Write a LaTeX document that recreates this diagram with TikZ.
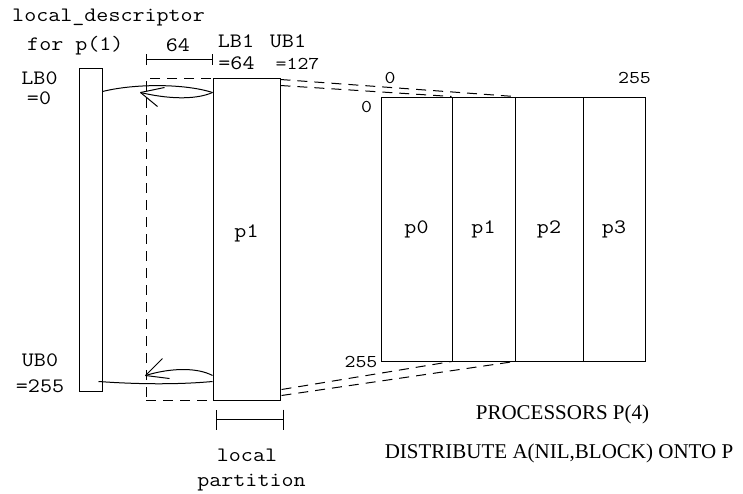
\documentclass[tikz,border=0pt]{standalone}
\usepackage{fontspec}
\setmainfont{Liberation Serif}
\usetikzlibrary{calc,arrows.meta}
\begin{document}
\begin{tikzpicture}[x=1pt,y=-1pt,
  line/.style={line width=1pt},
  box/.style={draw,line width=1pt,inner sep=0pt,minimum height=#1},
  dline/.style={line width=1pt,dash pattern=on 10pt off 7pt},
  mono/.style={font=\ttfamily\fontsize{20.5}{20.5}\selectfont,inner sep=0pt,xscale=1.14},
  monosm/.style={font=\ttfamily\fontsize{18}{18}\selectfont,inner sep=0pt,xscale=1.18},
  serif/.style={font=\fontsize{21}{21}\selectfont,inner sep=0pt}]
\useasboundingbox (0,0) rectangle (743,493);
% boxes
\node[box=323pt,minimum width=23pt] (ldesc) at (90.5,229.5) {};
\node[draw,line width=1pt,dash pattern=on 10pt off 7pt,inner sep=0pt,minimum width=67pt,minimum height=322pt] (dbox) at (179.5,239) {};
\node[box=322pt,minimum width=67pt] (lp1) at (246.5,239) {};
\node[box=264pt,minimum width=71pt] (c0) at (416.5,229) {};
\node[box=264pt,minimum width=63pt] (c1) at (483.5,229) {};
\node[box=264pt,minimum width=68pt] (c2) at (549,229) {};
\node[box=264pt,minimum width=62pt] (c3) at (614,229) {};
\node[mono,anchor=base] (lp1t) at (246.5,237) {p1};
\node[mono,anchor=base] (c0t) at (416.5,233) {p0};
\node[mono,anchor=base] (c1t) at (483.5,233) {p1};
\node[mono,anchor=base] (c2t) at (549,233) {p2};
\node[mono,anchor=base] (c3t) at (614,233) {p3};
% connectors
\coordinate (t1) at ($(dbox.north west)+(-5,15)$);
\coordinate (t2) at ($(dbox.south west)+(0,-25)$);
\draw[line] ($(ldesc.north east)+(0,24)$) .. controls +(32,-8) and +(-28,-9) .. ($(lp1.north west)+(0,15)$);
\draw[line] ($(lp1.north west)+(0,15)$) .. controls +(-18,8) and +(25,6) .. (t1);
\draw[line] (t1) -- +(17,14);
\draw[line] (t1) -- +(24,-5);
\draw[line] ($(ldesc.south east)+(-4,-10)$) .. controls +(42,3) and +(-33,3) .. ($(lp1.south west)+(0,-19)$);
\draw[line] ($(lp1.south west)+(0,-25)$) .. controls +(-15,-8) and +(26,-8) .. (t2);
\draw[line] (t2) -- +(17,-17);
\draw[line] (t2) -- +(24,3);
% dashed projections
\draw[dline] ($(lp1.north east)+(0,2)$) -- (c2.north west);
\draw[dline] ($(lp1.north east)+(0,8)$) -- (c1.north west);
\draw[dline] ($(lp1.south east)+(1,-11)$) -- (c1.south west);
\draw[dline] ($(lp1.south east)+(1,-5)$) -- (c2.south west);
% brackets
\coordinate (b1) at ($(dbox.north west)+(0,-18)$);
\coordinate (b2) at ($(lp1.north west)+(0,-18)$);
\draw[line,{Bar[width=11pt]}-{Bar[width=11pt]}] (b1) -- (b2);
\coordinate (b3) at ($(lp1.south west)+(3,19)$);
\coordinate (b4) at ($(lp1.south east)+(3,19)$);
\draw[line,{Bar[width=20pt]}-{Bar[width=20pt]}] (b3) -- (b4);
% texts
\node[mono,anchor=base west] (tdesc) at (12,21) {local\_descriptor};
\node[mono,anchor=base west] (tfor) at (27,50) {for p(1)};
\node[mono,anchor=base] (t64) at (178,51) {64};
\node[mono,anchor=base] (tlb1) at (236,47) {LB1};
\node[mono,anchor=base] (tub1) at (288,47) {UB1};
\node[mono,anchor=base] (tlb1v) at (236.5,69) {=64};
\node[monosm,anchor=base] (tub1v) at (297.5,69) {=127};
\node[mono,anchor=base] (tlb0) at (39.5,84) {LB0};
\node[mono,anchor=base] (tlb0v) at (39,104) {=0};
\node[mono,anchor=base] (tub0) at (40,366) {UB0};
\node[mono,anchor=base] (tub0v) at (40,392) {=255};
\node[mono,anchor=base] (tloc) at (247,461) {local};
\node[mono,anchor=base] (tpart) at (251.5,486) {partition};
\node[monosm,anchor=base] (r0a) at (390,83) {0};
\node[monosm,anchor=base] (r255a) at (634.5,83) {255};
\node[monosm,anchor=base] (r0b) at (366.5,112) {0};
\node[monosm,anchor=base] (r255b) at (361,367) {255};
\node[serif,anchor=base] (tproc) at (562.5,419) {PROCESSORS P(4)};
\node[serif,anchor=base] (tdist) at (559,458) {DISTRIBUTE A(NIL,BLOCK) ONTO P};
\end{tikzpicture}
\end{document}
